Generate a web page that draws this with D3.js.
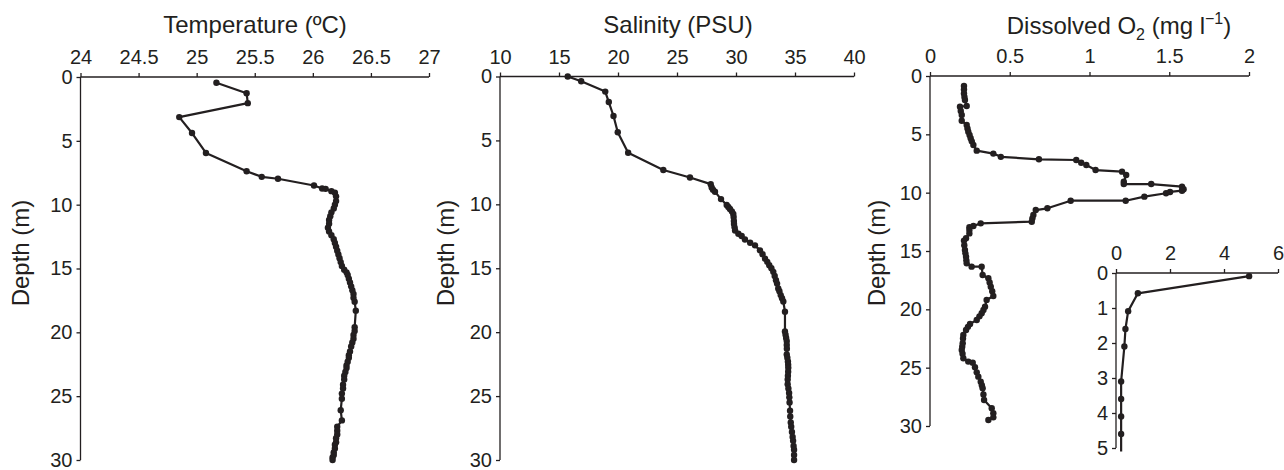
<!DOCTYPE html>
<html>
<head>
<meta charset="utf-8">
<script src="https://cdn.jsdelivr.net/npm/d3@7"></script>
<style>
  body { margin: 0; background: #fff; }
  svg { display: block; font-family: "Liberation Sans", Arial, Helvetica, sans-serif; }
  .axis path, .axis line { stroke: #231f20; stroke-width: 1.3; }
  .axis text { fill: #231f20; font-size: 20px; font-family: "Liberation Sans", Arial, sans-serif; }
  .lbl { fill: #231f20; }
</style>
</head>
<body>
<div id="chart"></div>
<script>
// profiles: [depth (m), value]
const tempProfile = [[0.45,25.17],[1.27,25.43],[2.05,25.44],[3.14,24.85],[4.39,24.96],[5.95,25.08],[7.38,25.43],[7.82,25.56],[7.97,25.70],[8.50,26.01],[8.73,26.08],[8.76,26.11],[8.94,26.16],[9.07,26.19],[9.35,26.20],[9.72,26.20],[10.0,26.19],[10.3,26.18],[10.6,26.16],[10.9,26.15],[11.2,26.14],[11.5,26.14],[11.8,26.13],[12.1,26.14],[12.4,26.16],[12.7,26.18],[13.0,26.19],[13.3,26.20],[13.6,26.21],[13.9,26.22],[14.2,26.23],[14.5,26.24],[14.8,26.25],[15.1,26.27],[15.3,26.29],[15.5,26.30],[15.8,26.31],[16.1,26.32],[16.4,26.33],[16.7,26.34],[17.0,26.35],[17.3,26.35],[17.6,26.36],[18.3,26.37],[19.6,26.36],[19.9,26.36],[20.2,26.35],[20.5,26.35],[20.8,26.34],[21.1,26.33],[21.5,26.32],[21.8,26.31],[22.0,26.31],[22.3,26.30],[22.6,26.29],[22.8,26.29],[23.1,26.28],[23.4,26.27],[23.7,26.27],[24.1,26.26],[24.4,26.26],[24.8,26.25],[25.2,26.25],[26.1,26.24],[26.9,26.25],[27.4,26.21],[27.7,26.21],[28.0,26.21],[28.3,26.20],[28.6,26.20],[28.8,26.19],[29.1,26.19],[29.4,26.18],[29.6,26.18],[29.8,26.17],[30.0,26.17]];

const salProfile = [[0.0,15.74],[0.37,16.88],[1.18,18.92],[2.0,19.22],[3.09,19.62],[4.36,19.98],[5.96,20.86],[7.31,23.84],[7.9,26.10],[8.42,27.86],[8.68,27.94],[8.85,28.05],[9.02,28.22],[9.59,28.73],[10.05,29.21],[10.2,29.35],[10.36,29.49],[10.55,29.65],[10.75,29.77],[11.0,29.8],[11.3,29.82],[11.53,29.83],[11.8,29.88],[12.05,29.92],[12.3,30.2],[12.48,30.48],[12.75,30.76],[13.0,31.2],[13.21,31.61],[13.6,32.03],[13.9,32.25],[14.25,32.46],[14.5,32.65],[14.77,32.82],[15.0,33.0],[15.28,33.16],[15.6,33.28],[15.93,33.39],[16.2,33.48],[16.58,33.58],[16.8,33.68],[17.1,33.79],[17.35,33.9],[17.6,34.01],[18.4,34.15],[19.94,34.15],[20.2,34.2],[20.45,34.25],[20.7,34.30],[21.0,34.3],[21.3,34.31],[21.75,34.30],[22.0,34.35],[22.3,34.4],[22.55,34.42],[22.79,34.43],[23.1,34.42],[23.4,34.4],[23.7,34.38],[24.08,34.38],[24.4,34.44],[24.75,34.5],[25.1,34.52],[25.5,34.54],[26.15,34.58],[26.6,34.6],[27.06,34.64],[27.4,34.68],[27.8,34.74],[28.2,34.80],[28.5,34.84],[28.9,34.88],[29.2,34.92],[29.6,34.92],[30.0,34.92]];

const oxyProfile = [[0.86,0.213],[1.15,0.213],[1.49,0.213],[1.8,0.216],[2.06,0.219],[2.57,0.23],[2.63,0.188],[3.0,0.193],[3.34,0.199],[3.83,0.199],[4.2,0.23],[4.5,0.235],[4.77,0.24],[5.05,0.248],[5.34,0.255],[5.6,0.262],[5.91,0.272],[6.4,0.293],[6.65,0.397],[6.93,0.444],[7.14,0.683],[7.2,0.917],[7.43,0.948],[7.63,0.98],[8.06,1.038],[8.2,1.204],[8.49,1.23],[9.06,1.215],[9.26,1.215],[9.26,1.387],[9.49,1.58],[9.71,1.59],[9.83,1.58],[9.94,1.505],[10.05,1.48],[10.34,1.344],[10.69,1.227],[10.69,0.882],[11.34,0.736],[11.49,0.663],[11.91,0.648],[12.2,0.642],[12.49,0.638],[12.63,0.318],[12.86,0.272],[12.97,0.247],[13.2,0.247],[13.49,0.247],[13.91,0.226],[14.11,0.213],[14.5,0.215],[14.91,0.219],[15.2,0.222],[15.49,0.226],[15.8,0.228],[16.06,0.23],[16.34,0.261],[16.34,0.324],[17.06,0.33],[17.34,0.366],[17.7,0.374],[18.06,0.381],[18.45,0.39],[18.86,0.397],[19.2,0.355],[19.77,0.345],[20.05,0.335],[20.34,0.324],[20.6,0.31],[20.91,0.293],[21.25,0.251],[21.5,0.238],[21.77,0.226],[22.19,0.209],[22.5,0.207],[22.9,0.205],[23.2,0.202],[23.48,0.199],[23.8,0.204],[24.19,0.209],[24.48,0.24],[24.57,0.268],[24.97,0.282],[25.4,0.293],[25.77,0.303],[26.2,0.318],[26.5,0.325],[26.77,0.33],[27.3,0.335],[27.77,0.339],[28.48,0.387],[28.91,0.397],[29.26,0.397],[29.49,0.366]];

// inset: top 5 m of O2
const insetProfile = [[0.09,4.93],[0.58,0.81],[1.09,0.45],[1.6,0.35],[2.1,0.31],[3.1,0.19],[3.6,0.19],[4.1,0.19],[4.6,0.19]];
const insetTail = [5.1, 0.19]; // line runs on past last marker

const tempTicks = [24, 24.5, 25, 25.5, 26, 26.5, 27];
const salTicks = [10, 15, 20, 25, 30, 35, 40];
const oxyTicks = [0, 0.5, 1, 1.5, 2];
const insetTicks = [0, 2, 4, 6];
const depthTicks = [0, 5, 10, 15, 20, 25, 30];
const insetDepthTicks = [0, 1, 2, 3, 4, 5];

const ink = "#231f20";
const fmt = d3.format("");

const svg = d3.select("#chart").append("svg")
  .attr("width", 1284)
  .attr("height", 470);

function panel(o) {
  const x = d3.scaleLinear().domain(o.xDomain).range([o.left, o.right]);
  const y = d3.scaleLinear().domain(o.yDomain).range([o.top, o.bottom]);

  svg.append("g").attr("class", "axis")
    .attr("transform", "translate(0," + o.top + ")")
    .call(d3.axisTop(x).tickValues(o.xTicks).tickSize(4).tickSizeOuter(0).tickPadding(9).tickFormat(fmt))
    .call(g => g.select(".domain").attr("d", "M" + o.left + ",0H" + o.right));

  svg.append("g").attr("class", "axis")
    .attr("transform", "translate(" + o.left + ",0)")
    .call(d3.axisLeft(y).tickValues(o.yTicks).tickSize(4).tickSizeOuter(0).tickPadding(4).tickFormat(fmt))
    .call(g => g.select(".domain").attr("d", "M0," + o.top + "V" + o.bottom));

  const line = d3.line().x(d => x(d[1])).y(d => y(d[0]));
  const pts = o.tail ? o.data.concat([o.tail]) : o.data;
  svg.append("path").datum(pts)
    .attr("d", line)
    .attr("fill", "none")
    .attr("stroke", ink)
    .attr("stroke-width", 2.2)
    .attr("stroke-linejoin", "round");

  svg.append("g").selectAll("circle")
    .data(o.data).enter().append("circle")
    .attr("cx", d => x(d[1]))
    .attr("cy", d => y(d[0]))
    .attr("r", 3.2)
    .attr("fill", ink);

  if (o.depthLabelX) {
    svg.append("text").attr("class", "lbl")
      .attr("transform", "translate(" + o.depthLabelX + ",253) rotate(-90)")
      .attr("text-anchor", "middle")
      .attr("dominant-baseline", "central")
      .style("font-size", "24px")
      .text("Depth (m)");
  }
}

panel({ left: 80.5, right: 429, top: 77, bottom: 460, xDomain: [24, 27], yDomain: [0, 30],
  xTicks: tempTicks, yTicks: depthTicks, data: tempProfile, depthLabelX: 20 });
panel({ left: 500, right: 854, top: 76.5, bottom: 460, xDomain: [10, 40], yDomain: [0, 30],
  xTicks: salTicks, yTicks: depthTicks, data: salProfile, depthLabelX: 445 });
panel({ left: 930, right: 1249, top: 76, bottom: 426, xDomain: [0, 2], yDomain: [0, 30],
  xTicks: oxyTicks, yTicks: depthTicks, data: oxyProfile, depthLabelX: 876 });
panel({ left: 1116, right: 1278, top: 273, bottom: 448, xDomain: [0, 6], yDomain: [0, 5],
  xTicks: insetTicks, yTicks: insetDepthTicks, data: insetProfile, tail: insetTail });

// titles
svg.append("text").attr("class", "lbl").attr("x", 255).attr("y", 33)
  .attr("text-anchor", "middle").style("font-size", "24px").text("Temperature (ºC)");
svg.append("text").attr("class", "lbl").attr("x", 678).attr("y", 33)
  .attr("text-anchor", "middle").style("font-size", "24px").text("Salinity (PSU)");

const t3 = svg.append("text").attr("class", "lbl").attr("x", 1119).attr("y", 34)
  .attr("text-anchor", "middle").style("font-size", "24px");
t3.append("tspan").text("Dissolved O");
t3.append("tspan").attr("dy", 6).style("font-size", "16px").text("2");
t3.append("tspan").attr("dy", -6).text(" (mg l");
t3.append("tspan").attr("dy", -10).style("font-size", "16px").text("\u22121");
t3.append("tspan").attr("dy", 10).text(")");
</script>
</body>
</html>
